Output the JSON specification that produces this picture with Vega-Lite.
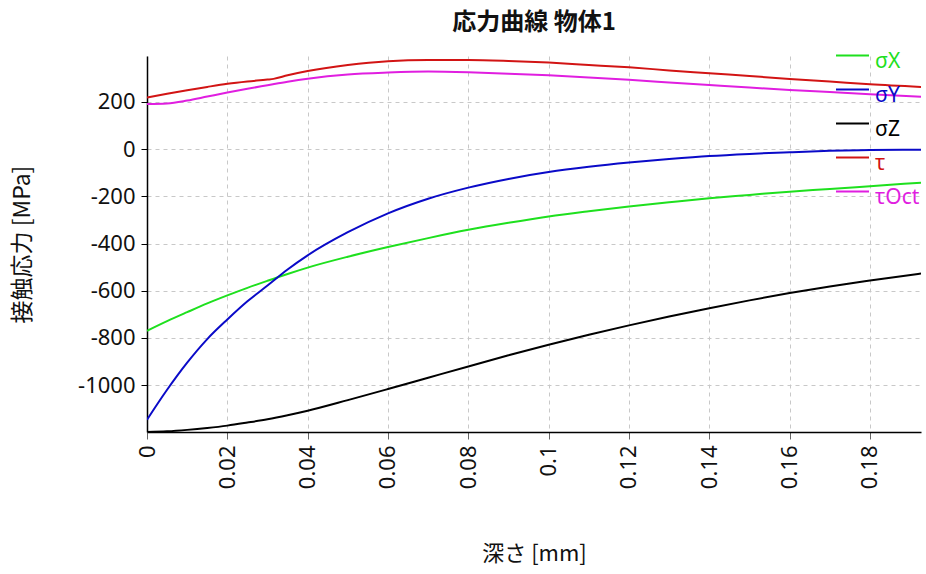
{
"$schema": "https://vega.github.io/schema/vega-lite/v6.json",
"width": 774,
"height": 376,
"autosize": "none",
"padding": {"left": 147, "top": 56, "right": 5, "bottom": 142},
"background": "white",
"title": {"text": "応力曲線 物体1", "fontSize": 24, "font": "Noto Sans CJK JP", "fontWeight": "bold", "color": "#111111", "offset": 3, "anchor": "middle", "frame": "group"},
"data": {"values": [
{"d":0,"s":"σX","v":-770},{"d":0.005,"s":"σX","v":-729},{"d":0.01,"s":"σX","v":-691},{"d":0.015,"s":"σX","v":-654},{"d":0.02,"s":"σX","v":-620},{"d":0.025,"s":"σX","v":-588},{"d":0.03,"s":"σX","v":-558},{"d":0.035,"s":"σX","v":-529},{"d":0.04,"s":"σX","v":-502},{"d":0.05,"s":"σX","v":-456},{"d":0.06,"s":"σX","v":-415},{"d":0.07,"s":"σX","v":-377},{"d":0.08,"s":"σX","v":-342},{"d":0.09,"s":"σX","v":-312},{"d":0.1,"s":"σX","v":-285},{"d":0.11,"s":"σX","v":-263},{"d":0.12,"s":"σX","v":-243},{"d":0.13,"s":"σX","v":-225},{"d":0.14,"s":"σX","v":-208},{"d":0.15,"s":"σX","v":-194},{"d":0.16,"s":"σX","v":-180},{"d":0.17,"s":"σX","v":-169},{"d":0.18,"s":"σX","v":-157},{"d":0.1927,"s":"σX","v":-142},
{"d":0,"s":"σY","v":-1147},{"d":0.005,"s":"σY","v":-1020},{"d":0.01,"s":"σY","v":-905},{"d":0.015,"s":"σY","v":-805},{"d":0.02,"s":"σY","v":-722},{"d":0.025,"s":"σY","v":-645},{"d":0.03,"s":"σY","v":-578},{"d":0.035,"s":"σY","v":-510},{"d":0.04,"s":"σY","v":-450},{"d":0.05,"s":"σY","v":-352},{"d":0.06,"s":"σY","v":-272},{"d":0.07,"s":"σY","v":-210},{"d":0.08,"s":"σY","v":-163},{"d":0.09,"s":"σY","v":-126},{"d":0.1,"s":"σY","v":-97},{"d":0.11,"s":"σY","v":-75},{"d":0.12,"s":"σY","v":-57},{"d":0.13,"s":"σY","v":-42},{"d":0.14,"s":"σY","v":-29},{"d":0.15,"s":"σY","v":-20},{"d":0.16,"s":"σY","v":-13},{"d":0.17,"s":"σY","v":-7},{"d":0.18,"s":"σY","v":-4},{"d":0.1927,"s":"σY","v":-2},
{"d":0,"s":"σZ","v":-1199},{"d":0.005,"s":"σZ","v":-1196},{"d":0.01,"s":"σZ","v":-1190},{"d":0.015,"s":"σZ","v":-1182},{"d":0.02,"s":"σZ","v":-1172},{"d":0.025,"s":"σZ","v":-1159},{"d":0.03,"s":"σZ","v":-1145},{"d":0.035,"s":"σZ","v":-1128},{"d":0.04,"s":"σZ","v":-1109},{"d":0.05,"s":"σZ","v":-1064},{"d":0.06,"s":"σZ","v":-1017},{"d":0.07,"s":"σZ","v":-969},{"d":0.08,"s":"σZ","v":-921},{"d":0.09,"s":"σZ","v":-874},{"d":0.1,"s":"σZ","v":-829},{"d":0.11,"s":"σZ","v":-787},{"d":0.12,"s":"σZ","v":-747},{"d":0.13,"s":"σZ","v":-709},{"d":0.14,"s":"σZ","v":-674},{"d":0.15,"s":"σZ","v":-641},{"d":0.16,"s":"σZ","v":-610},{"d":0.17,"s":"σZ","v":-582},{"d":0.18,"s":"σZ","v":-557},{"d":0.1927,"s":"σZ","v":-527},
{"d":0,"s":"τ","v":219},{"d":0.005,"s":"τ","v":235},{"d":0.01,"s":"τ","v":250},{"d":0.015,"s":"τ","v":264},{"d":0.02,"s":"τ","v":277},{"d":0.025,"s":"τ","v":287},{"d":0.03,"s":"τ","v":295},{"d":0.0315,"s":"τ","v":298},{"d":0.035,"s":"τ","v":313},{"d":0.04,"s":"τ","v":331},{"d":0.05,"s":"τ","v":357},{"d":0.06,"s":"τ","v":373},{"d":0.07,"s":"τ","v":378},{"d":0.08,"s":"τ","v":378},{"d":0.09,"s":"τ","v":374},{"d":0.1,"s":"τ","v":367},{"d":0.11,"s":"τ","v":357},{"d":0.12,"s":"τ","v":347},{"d":0.13,"s":"τ","v":334},{"d":0.14,"s":"τ","v":322},{"d":0.15,"s":"τ","v":310},{"d":0.16,"s":"τ","v":298},{"d":0.17,"s":"τ","v":287},{"d":0.18,"s":"τ","v":275},{"d":0.1927,"s":"τ","v":264},
{"d":0,"s":"τOct","v":192},{"d":0.005,"s":"τOct","v":194},{"d":0.01,"s":"τOct","v":206},{"d":0.015,"s":"τOct","v":223},{"d":0.02,"s":"τOct","v":240},{"d":0.025,"s":"τOct","v":256},{"d":0.03,"s":"τOct","v":271},{"d":0.035,"s":"τOct","v":286},{"d":0.04,"s":"τOct","v":299},{"d":0.05,"s":"τOct","v":317},{"d":0.06,"s":"τOct","v":325},{"d":0.07,"s":"τOct","v":329},{"d":0.08,"s":"τOct","v":326},{"d":0.09,"s":"τOct","v":320},{"d":0.1,"s":"τOct","v":313},{"d":0.11,"s":"τOct","v":304},{"d":0.12,"s":"τOct","v":294},{"d":0.13,"s":"τOct","v":283},{"d":0.14,"s":"τOct","v":272},{"d":0.15,"s":"τOct","v":261},{"d":0.16,"s":"τOct","v":251},{"d":0.17,"s":"τOct","v":242},{"d":0.18,"s":"τOct","v":233},{"d":0.1927,"s":"τOct","v":222}
]},
"mark": {"type": "line", "strokeWidth": 2, "interpolate": "monotone", "clip": true},
"encoding": {
"x": {"field": "d", "type": "quantitative",
 "scale": {"domain": [0, 0.1927], "nice": false, "zero": false},
 "axis": {"title": "深さ [mm]", "values": [0,0.02,0.04,0.06,0.08,0.1,0.12,0.14,0.16,0.18], "labelExpr": "'' + datum.value", "labelAngle": 270, "labelFontSize": 22, "labelFont": "Noto Sans", "labelColor": "#111111", "labelPadding": 6, "tickSize": 7, "tickColor": "#666666", "domainColor": "#000000", "domainWidth": 1.5, "grid": true, "gridColor": "#c8c8c8", "gridDash": [4, 4], "titleFont": "Noto Sans CJK JP", "titleFontSize": 22, "titleFontWeight": "normal", "titleColor": "#111111", "titlePadding": 55, "labelOverlap": false, "labelFlush": false}},
"y": {"field": "v", "type": "quantitative",
 "scale": {"domain": [-1199, 395], "nice": false, "zero": false},
 "axis": {"title": "接触応力 [MPa]", "values": [-1000,-800,-600,-400,-200,0,200], "labelExpr": "'' + datum.value", "labelFontSize": 22, "labelFont": "Noto Sans", "labelColor": "#111111", "labelPadding": 6, "tickSize": 6, "tickColor": "#000000", "domainColor": "#000000", "domainWidth": 1.5, "grid": true, "gridColor": "#c8c8c8", "gridDash": [4, 4], "titleFont": "Noto Sans CJK JP", "titleFontSize": 23, "titleFontWeight": "normal", "titleColor": "#111111", "titlePadding": 43, "labelOverlap": false, "labelFlush": false}},
"color": {"field": "s", "type": "nominal",
 "scale": {"domain": ["σX","σY","σZ","τ","τOct"], "range": ["#1EE01E","#0A0AC8","#000000","#D21414","#E01EE0"]},
 "legend": {"orient": "none", "legendX": 688, "legendY": -18, "title": null, "symbolType": "stroke", "symbolSize": 1089, "symbolStrokeWidth": 2, "labelFontSize": 21, "labelFont": "Noto Sans", "labelOffset": 5, "rowPadding": -1.3, "padding": 0, "labelLimit": 120,
  "encode": {"labels": {"update": {"fill": {"scale": "color", "field": "value"}, "dy": {"value": 6}}}}}}
},
"config": {"view": {"stroke": null}}
}
